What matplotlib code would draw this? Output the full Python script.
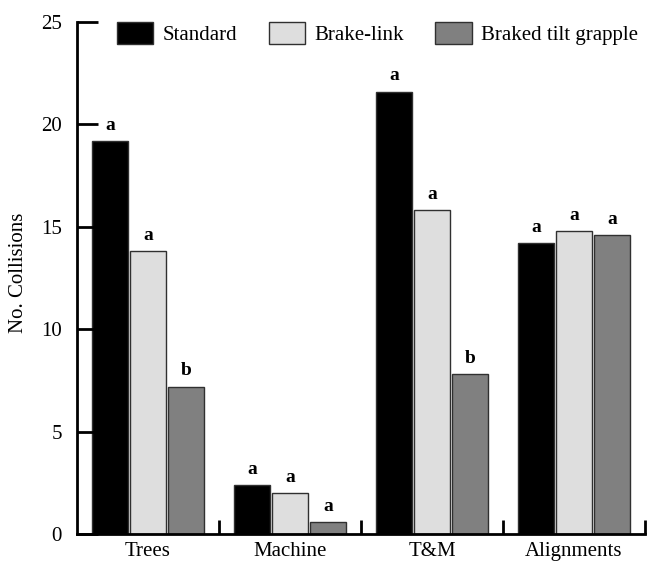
import numpy as np
import matplotlib
matplotlib.use("Agg")
import matplotlib.pyplot as plt

plt.rcParams['font.family'] = ['Liberation Serif', 'DejaVu Serif']

categories = ["Trees", "Machine", "T&M", "Alignments"]
series = ["Standard", "Brake-link", "Braked tilt grapple"]
standard = [19.2, 2.4, 21.6, 14.2]
brake_link = [13.8, 2.0, 15.8, 14.8]
tilt_grapple = [7.2, 0.6, 7.8, 14.6]
letters_standard = ["a", "a", "a", "a"]
letters_brake = ["a", "a", "a", "a"]
letters_tilt = ["b", "a", "b", "a"]
colors = ["#000000", "#dedede", "#808080"]

fig = plt.figure(figsize=(6.54, 5.61), dpi=100)
ax = fig.add_axes([77 / 654, 27 / 561, (645 - 77) / 654, (534 - 22) / 561])

x = np.arange(len(categories))
width = 0.255
step = 0.268
values = [standard, brake_link, tilt_grapple]
letters = [letters_standard, letters_brake, letters_tilt]

for i, (vals, lets) in enumerate(zip(values, letters)):
    pos = x + (i - 1) * step
    ax.bar(pos, vals, width, color=colors[i], edgecolor="#303030",
           linewidth=1.0, label=series[i])
    for p, v, l in zip(pos, vals, lets):
        ax.text(p, v + 0.35, l, ha="center", va="bottom", fontsize=14,
                fontweight="bold")

ax.set_xlim(-0.5, 3.5)
ax.set_ylim(0, 25)
ax.set_yticks([0, 5, 10, 15, 20, 25])
ax.set_xticks(x)
ax.set_xticklabels(categories)
ax.set_xticks([0.5, 1.5, 2.5, 3.5], minor=True)

ax.tick_params(axis="x", which="major", length=0, labelsize=15, pad=6)
ax.tick_params(axis="x", which="minor", direction="in", length=10, width=2)
ax.tick_params(axis="y", direction="in", length=15, width=2, labelsize=15, pad=11)

for s in ["top", "right"]:
    ax.spines[s].set_visible(False)
for s in ["left", "bottom"]:
    ax.spines[s].set_linewidth(2)

ax.set_ylabel("No. Collisions", fontsize=15)
ax.yaxis.set_label_coords(-0.086, 0.51)

fig.legend(loc="upper left", bbox_to_anchor=(117 / 654, 1 - 22 / 561), ncol=3,
           frameon=False, fontsize=15, handlelength=1.75, handleheight=1.25,
           handletextpad=0.45, columnspacing=1.5, borderpad=0, borderaxespad=0)

fig.savefig("out.png", dpi=100)
